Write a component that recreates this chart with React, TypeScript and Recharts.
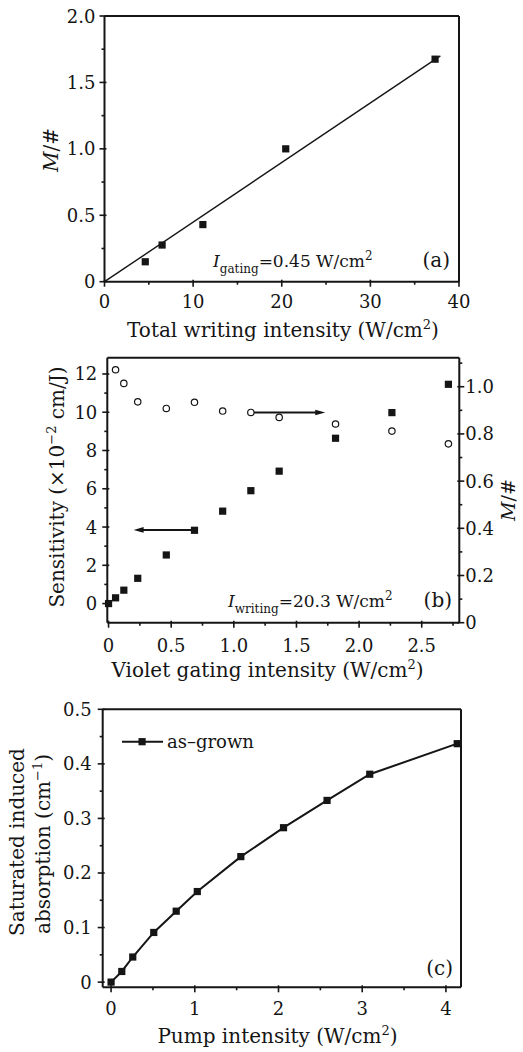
import { ScatterChart, Scatter, XAxis, YAxis, ReferenceLine } from 'recharts';

const FONT = '"DejaVu Serif", "Liberation Serif", serif';
const INK = '#151515';
const W = 523;
const FS = 18;
const TITLE = 20;

// (a) M/# vs total writing intensity
const writingIntensity = [4.6, 6.5, 11.1, 20.45, 37.3];
const mNumberA = [0.15, 0.276, 0.43, 1.0, 1.675];
const fitIntensity = [0, 37.9];
const fitM = [0, 1.7];

// (b) sensitivity (left) and M/# (right) vs violet gating intensity
const gatingIntensity = [0, 0.056, 0.122, 0.233, 0.461, 0.686, 0.911, 1.136, 1.362, 1.812, 2.262, 2.713];
const sensitivity = [0, 0.3, 0.7, 1.32, 2.54, 3.83, 4.83, 5.9, 6.92, 8.64, 9.98, 11.46];
const gatingIntensityM = [0.056, 0.122, 0.233, 0.461, 0.686, 0.911, 1.136, 1.362, 1.812, 2.262, 2.713];
const mNumberB = [1.072, 1.014, 0.936, 0.908, 0.934, 0.897, 0.891, 0.87, 0.842, 0.812, 0.758];
const arrowToLeft = { from: 0.67, to: 0.2, y: 3.85 };
const arrowToRight = { from: 1.15, to: 1.73, y: 0.891 };

// (c) saturated induced absorption vs pump intensity
const pumpIntensity = [0, 0.128, 0.259, 0.51, 0.778, 1.03, 1.55, 2.06, 2.58, 3.09, 4.135];
const absorption = [0, 0.0195, 0.046, 0.091, 0.13, 0.166, 0.23, 0.283, 0.333, 0.381, 0.437];

// ticks (all) and labelled ticks
const aXTicks = [0, 5, 10, 15, 20, 25, 30, 35, 40];
const aXLabels = [0, 10, 20, 30, 40];
const aYTicks = [0, 0.25, 0.5, 0.75, 1, 1.25, 1.5, 1.75, 2];
const aYLabels = [0, 0.5, 1, 1.5, 2];
const bXTicks = [0, 0.25, 0.5, 0.75, 1, 1.25, 1.5, 1.75, 2, 2.25, 2.5, 2.75];
const bXLabels = [0, 0.5, 1, 1.5, 2, 2.5];
const bYLeftTicks = [0, 1, 2, 3, 4, 5, 6, 7, 8, 9, 10, 11, 12];
const bYLeftLabels = [0, 2, 4, 6, 8, 10, 12];
const bYRightTicks = [0, 0.1, 0.2, 0.3, 0.4, 0.5, 0.6, 0.7, 0.8, 0.9, 1, 1.1];
const bYRightLabels = [0, 0.2, 0.4, 0.6, 0.8, 1];
const cXTicks = [0, 0.5, 1, 1.5, 2, 2.5, 3, 3.5, 4];
const cXLabels = [0, 1, 2, 3, 4];
const cYTicks = [0, 0.05, 0.1, 0.15, 0.2, 0.25, 0.3, 0.35, 0.4, 0.45, 0.5];
const cYLabels = [0, 0.1, 0.2, 0.3, 0.4, 0.5];

const fmtInt = (v: number) => String(v);
const fmtOne = (v: number) => (v === 0 ? '0' : v.toFixed(1));

const txt = { fontFamily: FONT, fontSize: FS, fill: INK };
const title = { fontFamily: FONT, fontSize: TITLE, fill: INK };
const note = { fontFamily: FONT, fontSize: 17, fill: INK };
const axisLine = { stroke: INK, strokeWidth: 2 };

type Side = 'left' | 'right' | 'top' | 'bottom';

function makeTick(side: Side, labelled: number[], fmt?: (v: number) => string, gap = 8) {
  return function Tick(props: any) {
    const { x, y, payload } = props;
    const v = payload.value as number;
    const major = labelled.some((m) => Math.abs(m - v) < 1e-6);
    const out = major ? 5 : 3;
    const inside = major ? 2 : 0;
    const st = { stroke: INK, strokeWidth: 1.6 };
    const showLabel = fmt && major;
    if (side === 'bottom' || side === 'top') {
      const s = side === 'bottom' ? 1 : -1;
      return (
        <g>
          <line x1={x} x2={x} y1={y - s * inside} y2={y + s * out} {...st} />
          {showLabel && (
            <text x={x} y={y + gap} textAnchor="middle" {...txt}>
              {fmt!(v)}
            </text>
          )}
        </g>
      );
    }
    const s = side === 'right' ? 1 : -1;
    return (
      <g>
        <line x1={x - s * inside} x2={x + s * out} y1={y} y2={y} {...st} />
        {showLabel && (
          <text x={x + s * gap} y={y + 6.5} textAnchor={side === 'left' ? 'end' : 'start'} {...txt}>
            {fmt!(v)}
          </text>
        )}
      </g>
    );
  };
}

const SquareMark = (props: any) => {
  const { cx, cy } = props;
  return <rect x={cx - 3.6} y={cy - 3.6} width={7.2} height={7.2} fill={INK} />;
};

const OpenCircle = (props: any) => {
  const { cx, cy } = props;
  return <circle cx={cx} cy={cy} r={3.2} fill="#fff" stroke={INK} strokeWidth={1.2} />;
};

const NoMark = () => <g />;

const ArrowShape = (props: any) => {
  const { x1, y1, x2, y2 } = props;
  const d = Math.sign(x2 - x1);
  return (
    <g>
      <line x1={x1} y1={y1} x2={x2 - d * 6} y2={y2} stroke={INK} strokeWidth={2} />
      <polygon points={`${x2},${y2} ${x2 - d * 10},${y2 - 2.8} ${x2 - d * 10},${y2 + 2.8}`} fill={INK} />
    </g>
  );
};

const sup = (s: string) => [
  <tspan key="s" dy={-8} fontSize={13}>
    {s}
  </tspan>,
  <tspan key="r" dy={8}>
    )
  </tspan>,
];

// axis boxes are 1px wide/high, so each margin is the plot offset minus 1
function PanelA() {
  const pts = writingIntensity.map((x, i) => ({ x, y: mNumberA[i] }));
  const fit = fitIntensity.map((x, i) => ({ x, y: fitM[i] }));
  return (
    <ScatterChart width={W} height={345} margin={{ top: 15, right: 63, bottom: 62.3, left: 103.5 }}>
      <XAxis xAxisId="b" dataKey="x" type="number" domain={[0, 40]} ticks={aXTicks} interval={0} height={1}
        tickSize={0} tickMargin={0} tickLine={false} axisLine={axisLine} tick={makeTick('bottom', aXLabels, fmtInt, 26)} />
      <XAxis xAxisId="t" dataKey="x" type="number" orientation="top" domain={[0, 40]} ticks={aXTicks} interval={0} height={1}
        tickSize={0} tickMargin={0} tickLine={false} axisLine={axisLine} tick={makeTick('top', aXLabels)} />
      <YAxis yAxisId="l" dataKey="y" type="number" domain={[0, 2]} ticks={aYTicks} interval={0} width={1}
        tickSize={0} tickMargin={0} tickLine={false} axisLine={axisLine} tick={makeTick('left', aYLabels, fmtOne, 9)} />
      <YAxis yAxisId="r" dataKey="y" type="number" orientation="right" domain={[0, 2]} ticks={aYTicks} interval={0} width={1}
        tickSize={0} tickMargin={0} tickLine={false} axisLine={axisLine} tick={makeTick('right', aYLabels)} />
      <Scatter xAxisId="b" yAxisId="l" data={fit} line={{ stroke: INK, strokeWidth: 1.4 }} shape={NoMark} isAnimationActive={false} />
      <Scatter xAxisId="b" yAxisId="l" data={pts} shape={SquareMark} isAnimationActive={false} />
      <text x={283} y={337} textAnchor="middle" {...title}>
        Total writing intensity (W/cm{sup('2')}
      </text>
      <text x={58} y={150} transform="rotate(-90 58 150)" textAnchor="middle" {...title}>
        <tspan fontStyle="italic">M</tspan>/#
      </text>
      <text x={213} y={267} {...note}>
        <tspan fontStyle="italic">I</tspan>
        <tspan fontSize={12} dy={6}>gating</tspan>
        <tspan dy={-6}>=0.45 W/cm</tspan>
        <tspan fontSize={12} dy={-7}>2</tspan>
      </text>
      <text x={450} y={267} textAnchor="end" {...title}>(a)</text>
    </ScatterChart>
  );
}

function PanelB() {
  const sens = gatingIntensity.map((x, i) => ({ x, y: sensitivity[i] }));
  const mnum = gatingIntensityM.map((x, i) => ({ x, y: mNumberB[i] }));
  const xDom = [-0.01, 2.8];
  return (
    <ScatterChart width={W} height={345} margin={{ top: 11.7, right: 62.7, bottom: 66.3, left: 106.3 }}>
      <XAxis xAxisId="b" dataKey="x" type="number" domain={xDom} ticks={bXTicks} interval={0} height={1}
        tickSize={0} tickMargin={0} tickLine={false} axisLine={axisLine} tick={makeTick('bottom', bXLabels, fmtOne, 29.5)} />
      <XAxis xAxisId="t" dataKey="x" type="number" orientation="top" domain={xDom} ticks={bXTicks} interval={0} height={1}
        tickSize={0} tickMargin={0} tickLine={false} axisLine={axisLine} tick={makeTick('top', bXLabels)} />
      <YAxis yAxisId="l" dataKey="y" type="number" domain={[-1, 12.85]} ticks={bYLeftTicks} interval={0} width={1}
        tickSize={0} tickMargin={0} tickLine={false} axisLine={axisLine} tick={makeTick('left', bYLeftLabels, fmtInt, 10)} />
      <YAxis yAxisId="r" dataKey="y" type="number" orientation="right" domain={[0, 1.123]} ticks={bYRightTicks} interval={0} width={1}
        tickSize={0} tickMargin={0} tickLine={false} axisLine={axisLine} tick={makeTick('right', bYRightLabels, fmtOne, 6)} />
      <Scatter xAxisId="b" yAxisId="r" data={mnum} shape={OpenCircle} isAnimationActive={false} />
      <Scatter xAxisId="b" yAxisId="l" data={sens} shape={SquareMark} isAnimationActive={false} />
      <ReferenceLine xAxisId="b" yAxisId="l"
        segment={[{ x: arrowToLeft.from, y: arrowToLeft.y }, { x: arrowToLeft.to, y: arrowToLeft.y }]}
        shape={ArrowShape} />
      <ReferenceLine xAxisId="b" yAxisId="r"
        segment={[{ x: arrowToRight.from, y: arrowToRight.y }, { x: arrowToRight.to, y: arrowToRight.y }]}
        shape={ArrowShape} />
      <text x={267.5} y={331.7} textAnchor="middle" {...title}>
        Violet gating intensity (W/cm{sup('2')}
      </text>
      <text x={64} y={142} transform="rotate(-90 64 142)" textAnchor="middle" {...title}>
        Sensitivity (×10
        <tspan dy={-8} fontSize={13}>−2</tspan>
        <tspan dy={8}> cm/J)</tspan>
      </text>
      <text x={515} y={155} transform="rotate(-90 515 155)" textAnchor="middle" {...title} fontSize={19}>
        <tspan fontStyle="italic">M</tspan>/#
      </text>
      <text x={228} y={262} {...note}>
        <tspan fontStyle="italic">I</tspan>
        <tspan fontSize={12} dy={6}>writing</tspan>
        <tspan dy={-6}>=20.3 W/cm</tspan>
        <tspan fontSize={12} dy={-7}>2</tspan>
      </text>
      <text x={452} y={262} textAnchor="end" {...title}>(b)</text>
    </ScatterChart>
  );
}

function PanelC() {
  const pts = pumpIntensity.map((x, i) => ({ x, y: absorption[i] }));
  const xDom = [-0.1, 4.18];
  const yDom = [-0.0095, 0.5];
  return (
    <ScatterChart width={W} height={362} margin={{ top: 18.3, right: 61, bottom: 63.7, left: 101.7 }}>
      <XAxis xAxisId="b" dataKey="x" type="number" domain={xDom} ticks={cXTicks} interval={0} height={1}
        tickSize={0} tickMargin={0} tickLine={false} axisLine={axisLine} tick={makeTick('bottom', cXLabels, fmtInt, 27.7)} />
      <XAxis xAxisId="t" dataKey="x" type="number" orientation="top" domain={xDom} ticks={cXTicks} interval={0} height={1}
        tickSize={0} tickMargin={0} tickLine={false} axisLine={axisLine} tick={makeTick('top', cXLabels)} />
      <YAxis yAxisId="l" dataKey="y" type="number" domain={yDom} ticks={cYTicks} interval={0} width={1}
        tickSize={0} tickMargin={0} tickLine={false} axisLine={axisLine} tick={makeTick('left', cYLabels, fmtOne, 11)} />
      <YAxis yAxisId="r" dataKey="y" type="number" orientation="right" domain={yDom} ticks={cYTicks} interval={0} width={1}
        tickSize={0} tickMargin={0} tickLine={false} axisLine={axisLine} tick={makeTick('right', cYLabels)} />
      <Scatter xAxisId="b" yAxisId="l" name="as–grown" data={pts} line={{ stroke: INK, strokeWidth: 2 }} lineType="joint"
        shape={SquareMark} isAnimationActive={false} />
      <g>
        <line x1={122} x2={163} y1={51.7} y2={51.7} stroke={INK} strokeWidth={2} />
        <rect x={138.5} y={48.1} width={7.2} height={7.2} fill={INK} />
        <text x={167} y={57.5} {...txt}>as–grown</text>
      </g>
      <text x={277.5} y={353} textAnchor="middle" {...title}>
        Pump intensity (W/cm{sup('2')}
      </text>
      <text x={24} y={152} transform="rotate(-90 24 152)" textAnchor="middle" {...title}>
        Saturated induced
      </text>
      <text x={50} y={154} transform="rotate(-90 50 154)" textAnchor="middle" {...title}>
        absorption (cm
        <tspan dy={-8} fontSize={13}>−1</tspan>
        <tspan dy={8}>)</tspan>
      </text>
      <text x={453} y={285} textAnchor="end" {...title}>(c)</text>
    </ScatterChart>
  );
}

export default function App() {
  return (
    <div style={{ position: 'absolute', left: 0, top: 0, width: W, height: 1052, background: '#fff' }}>
      <div style={{ position: 'absolute', left: 0, top: 0 }}>
        <PanelA />
      </div>
      <div style={{ position: 'absolute', left: 0, top: 345 }}>
        <PanelB />
      </div>
      <div style={{ position: 'absolute', left: 0, top: 690 }}>
        <PanelC />
      </div>
    </div>
  );
}
